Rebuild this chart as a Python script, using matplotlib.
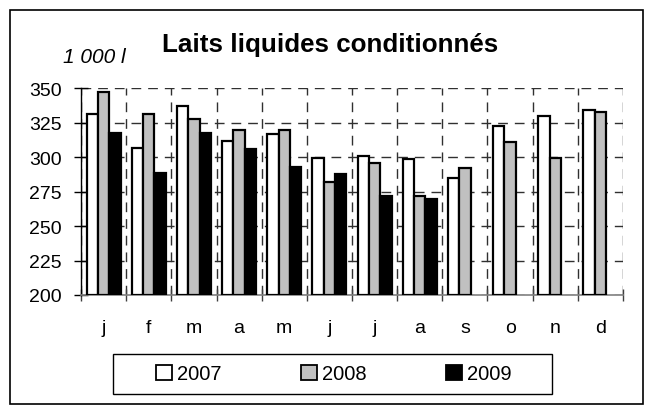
import matplotlib
matplotlib.use("Agg")
import matplotlib.pyplot as plt
from matplotlib.patches import Patch, Rectangle
import numpy as np

plt.rcParams['font.family'] = ['Liberation Sans', 'DejaVu Sans']

months = ['j', 'f', 'm', 'a', 'm', 'j', 'j', 'a', 's', 'o', 'n', 'd']
years = ['2007', '2008', '2009']
v2007 = [331, 306.5, 337, 312, 317, 299.5, 301, 298.5, 285, 322.5, 330, 334.5]
v2008 = [347, 331, 328, 319.5, 319.5, 282, 296, 272, 292, 311, 299.5, 333]
v2009 = [317.5, 288.5, 317.5, 306, 293, 287.5, 271.5, 270]
colors = ['white', '#C0C0C0', 'black']

W, H = 646, 406
fig = plt.figure(figsize=(W / 100, H / 100), dpi=100)
ax = fig.add_axes([81 / W, 1 - 296 / H, (623 - 81) / W, (296 - 89.3) / H])

x = np.arange(len(months))
bw = 0.25
series = [v2007, v2008, v2009]
for i, vals in enumerate(series):
    xs = x[:len(vals)] + (i - 1) * bw
    ax.bar(xs, np.array(vals) - 200, bottom=200, width=bw, color=colors[i],
           edgecolor='black', linewidth=1.6, zorder=3)

ax.set_xlim(-0.5, len(months) - 0.5)
ax.set_ylim(200, 350)
ax.set_yticks(np.arange(200, 351, 25))
ax.set_xticks(x)
ax.set_xticklabels(months)
ax.set_xticks(np.arange(-0.5, len(months), 1), minor=True)
ax.tick_params(axis='x', which='major', length=0, pad=17, labelsize=14)
ax.tick_params(axis='x', which='minor', direction='inout', length=9, width=1, color='#404040')
ax.tick_params(axis='y', direction='inout', length=10, width=1, pad=9, labelsize=14)

ax.grid(True, axis='y', which='major', linestyle=(0, (7, 5)), color='#303030', linewidth=1, zorder=0)
ax.grid(True, axis='x', which='minor', linestyle=(0, (7, 5)), color='#303030', linewidth=1, zorder=0)
ax.grid(False, axis='x', which='major')

ax.spines['top'].set_visible(False)
ax.spines['right'].set_visible(False)
ax.spines['left'].set_color('black')
ax.spines['left'].set_linewidth(1)
ax.spines['bottom'].set_color('#808080')
ax.spines['bottom'].set_linewidth(1.2)
ax.set_axisbelow(True)

fig.text(330 / W, 1 - 51.7 / H, 'Laits liquides conditionnés', ha='center', va='baseline',
         fontsize=18.7, fontweight='bold')
fig.text(94 / W, 1 - 63 / H, '1 000 l', ha='center', va='baseline', fontsize=15, style='italic')

handles = [Patch(facecolor=c, edgecolor='black', linewidth=1.3) for c in colors]
leg = fig.legend(handles, years, loc='center', ncol=3,
                 bbox_to_anchor=(334 / W, 1 - 375 / H),
                 frameon=False, fontsize=14.5, handlelength=0.8,
                 handleheight=0.75, handletextpad=0.25, columnspacing=3.93,
                 borderpad=0, borderaxespad=0)

fig.patches.append(Rectangle((113 / W, 1 - 395 / H), (552 - 113) / W, 40 / H, transform=fig.transFigure,
                             fill=False, edgecolor='black', linewidth=1))
fig.patches.append(Rectangle((10 / W, 1 - 405 / H), 633 / W, 394 / H, transform=fig.transFigure,
                             fill=False, edgecolor='black', linewidth=1.2))

fig.savefig('out.png', dpi=100)
